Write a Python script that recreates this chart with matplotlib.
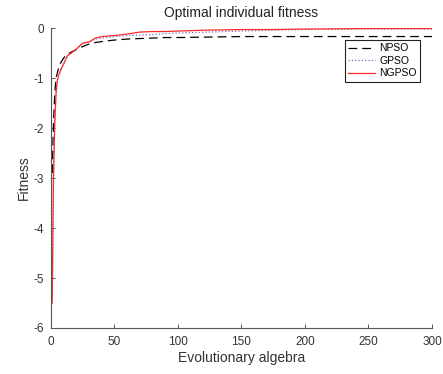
import matplotlib
matplotlib.use('Agg')
import matplotlib.pyplot as plt

# sampled generations
gen = [1, 2, 3, 4, 5, 6, 8, 10, 13, 16, 20, 25, 30, 35, 40, 50, 60, 70, 80,
       90, 100, 125, 150, 175, 200, 250, 300]

# best fitness per algorithm
npso = [-2.9, -1.9, -1.3, -1.0, -0.9, -0.8, -0.68, -0.6, -0.52, -0.48, -0.43,
        -0.37, -0.32, -0.29, -0.27, -0.24, -0.22, -0.21, -0.2, -0.19, -0.19,
        -0.18, -0.17, -0.17, -0.17, -0.17, -0.17]
gpso = [-5.4, -3.0, -1.9, -1.35, -1.08, -0.95, -0.82, -0.72, -0.56, -0.5,
        -0.42, -0.31, -0.28, -0.22, -0.2, -0.17, -0.15, -0.14, -0.13, -0.11,
        -0.1, -0.08, -0.06, -0.04, -0.03, -0.02, -0.02]
ngpso = [-5.5, -3.0, -1.9, -1.3, -1.05, -0.95, -0.82, -0.72, -0.55, -0.5,
         -0.42, -0.3, -0.28, -0.2, -0.17, -0.15, -0.12, -0.08, -0.07, -0.07,
         -0.06, -0.04, -0.03, -0.03, -0.02, -0.01, -0.01]

plt.rcParams['font.family'] = ['Liberation Sans', 'DejaVu Sans']
plt.rcParams['axes.unicode_minus'] = False

fig = plt.figure(figsize=(4.43, 3.74), dpi=100)
ax = fig.add_axes([0.115, 0.123, 0.86, 0.802])

ax.plot(gen, npso, color='black', linestyle=(0, (7, 4)), linewidth=0.9, label='NPSO')
ax.plot(gen, gpso, color='#6f6fc8', linestyle=':', linewidth=0.9, label='GPSO')
ax.plot(gen, ngpso, color='#ff2b2b', linestyle='-', linewidth=0.9, label='NGPSO')

ax.set_xlim(0, 300)
ax.set_ylim(-6, 0)
ax.set_xticks([0, 50, 100, 150, 200, 250, 300])
ax.set_yticks([-6, -5, -4, -3, -2, -1, 0])

for s in ['top', 'right']:
    ax.spines[s].set_visible(False)
for s in ['left', 'bottom']:
    ax.spines[s].set_color('#555555')
    ax.spines[s].set_linewidth(0.8)
ax.tick_params(direction='in', length=3, width=0.7, colors='#555555',
               labelsize=8.5, labelcolor='#333333')
ax.tick_params(axis='x', pad=6)
ax.tick_params(axis='y', pad=5)

ax.set_title('Optimal individual fitness', fontsize=10, color='#222222', pad=8)
ax.set_xlabel('Evolutionary algebra', fontsize=10, color='#333333', labelpad=2)
ax.set_ylabel('Fitness', fontsize=10, color='#333333', labelpad=2)

leg = ax.legend(loc='upper right', bbox_to_anchor=(0.969, 0.96), fontsize=7.5,
                fancybox=False, framealpha=1, edgecolor='#222222',
                borderpad=0.3, labelspacing=0.25, handlelength=2.6,
                handletextpad=0.4, borderaxespad=0)
leg.get_frame().set_linewidth(0.8)

fig.savefig('out.png', dpi=100)
